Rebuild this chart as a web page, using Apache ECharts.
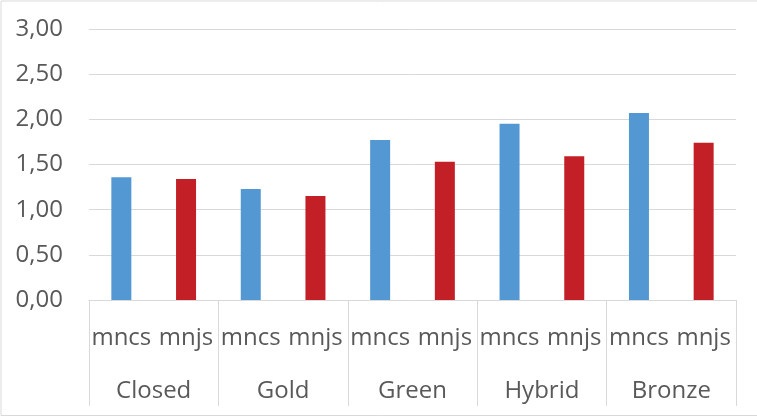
<!DOCTYPE html>
<html>
<head>
<meta charset="utf-8">
<script src="https://cdn.jsdelivr.net/npm/echarts@6/dist/echarts.min.js"></script>
<style>
  html, body { margin: 0; padding: 0; background: #fff; }
  #chart { width: 757px; height: 418px; }
</style>
</head>
<body>
<div id="chart"></div>
<script>
// Groups and the two measures shown under each group
const groups = ['Closed', 'Gold', 'Green', 'Hybrid', 'Bronze'];
const measures = ['mncs', 'mnjs'];
const mncs = [1.36, 1.23, 1.77, 1.95, 2.07];
const mnjs = [1.34, 1.15, 1.53, 1.59, 1.74];
const yTicks = [0, 0.5, 1, 1.5, 2, 2.5, 3];

// One slot per (group, measure); each series fills only its own slots
const slots = [];
const mncsData = [];
const mnjsData = [];
groups.forEach((g, i) => {
  slots.push(measures[0], measures[1]);
  mncsData.push(mncs[i], null);
  mnjsData.push(null, mnjs[i]);
});

const FONT = '"Open Sans", sans-serif';
const GRAY = '#d9d9d9';
const TEXT = '#595959';

const chart = echarts.init(document.getElementById('chart'), null, { renderer: 'canvas' });
chart.setOption({
  animation: false,
  backgroundColor: '#fff',
  graphic: [{
    type: 'rect',
    shape: { x: 1, y: 1, width: 800, height: 414.5 },
    style: { fill: 'none', stroke: GRAY, lineWidth: 1 },
    silent: true
  }],
  grid: { left: 89, right: 21, top: 29, bottom: 118 },
  xAxis: [{
    type: 'category',
    data: slots,
    axisLine: { show: true, lineStyle: { color: GRAY, width: 1 } },
    axisTick: { show: false },
    axisLabel: { interval: 0, margin: 26, color: TEXT, fontSize: 24, fontFamily: FONT }
  }, {
    type: 'category',
    data: groups,
    position: 'bottom',
    axisLine: { show: false },
    axisTick: { show: true, interval: 0, length: 106, lineStyle: { color: GRAY, width: 1 } },
    axisLabel: { interval: 0, margin: 79, color: TEXT, fontSize: 24, fontFamily: FONT }
  }],
  yAxis: {
    type: 'value',
    min: yTicks[0],
    max: yTicks[yTicks.length - 1],
    interval: 0.5,
    axisLine: { show: false },
    axisTick: { show: false },
    splitLine: { lineStyle: { color: GRAY, width: 1 } },
    axisLabel: {
      margin: 26, color: TEXT, fontSize: 24, fontFamily: FONT,
      formatter: v => v.toFixed(2).replace('.', ',')
    }
  },
  series: [{
    name: 'mncs',
    type: 'bar',
    data: mncsData,
    barWidth: 20,
    barGap: '-100%',
    itemStyle: { color: '#5397d3' }
  }, {
    name: 'mnjs',
    type: 'bar',
    data: mnjsData,
    barWidth: 20,
    barGap: '-100%',
    itemStyle: { color: '#c21f26' }
  }]
});
</script>
</body>
</html>
